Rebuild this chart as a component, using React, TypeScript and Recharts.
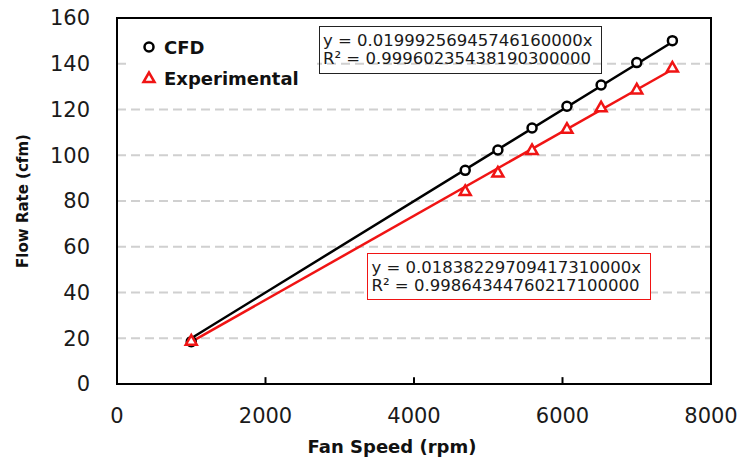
import React from 'react';
import { ScatterChart, Scatter, XAxis, YAxis, CartesianGrid, ReferenceArea, ReferenceLine, Legend } from 'recharts';

// ---- data ----
const fanSpeed = [1000, 4690, 5130, 5590, 6060, 6520, 7000, 7480];
const cfdFlow = [18.5, 93.4, 102.3, 111.9, 121.4, 130.7, 140.5, 150.1];
const expFlow = [19.0, 84.4, 92.5, 102.3, 111.6, 121.0, 128.8, 138.4];
const fitX = [1000, 7480];
const cfdFitY = [20.0, 149.5];
const expFitY = [18.4, 137.5];
const xTicks = [0, 2000, 4000, 6000, 8000];
const yTicks = [0, 20, 40, 60, 80, 100, 120, 140, 160];
const seriesNames = ['CFD', 'Experimental'];
const cfdEquation = ['y = 0.01999256945746160000x', 'R\u00B2 = 0.99960235438190300000'];
const expEquation = ['y = 0.01838229709417310000x', 'R\u00B2 = 0.99864344760217100000'];
const xTitle = 'Fan Speed (rpm)';
const yTitle = 'Flow Rate (cfm)';

const cfdData = fanSpeed.map((x, i) => ({ x, y: cfdFlow[i] }));
const expData = fanSpeed.map((x, i) => ({ x, y: expFlow[i] }));
const cfdFit = fitX.map((x, i) => ({ x, y: cfdFitY[i] }));
const expFit = fitX.map((x, i) => ({ x, y: expFitY[i] }));

const FONT = '"DejaVu Sans", sans-serif';
const RED = '#f01414';

const Circle = (p: any) => (
  <circle cx={p.cx} cy={p.cy} r={4.5} fill="#fff" stroke="#000" strokeWidth={2.5} />
);
const Tri = (p: any) => {
  const { cx, cy } = p;
  const s = 5.5;
  return (
    <polygon
      points={`${cx},${cy - s} ${cx - s},${cy + s * 0.75} ${cx + s},${cy + s * 0.75}`}
      fill="#fff"
      stroke={RED}
      strokeWidth={2.5}
    />
  );
};
const NoShape = () => <g />;

const YTitle = () => (
  <text
    x={23}
    y={201}
    transform="rotate(-90, 23, 201)"
    textAnchor="middle"
    dominantBaseline="central"
    fontFamily={FONT}
    fontWeight="bold"
    fontSize={15}
    fill="#111"
  >
    {yTitle}
  </text>
);
const XTitle = () => (
  <text
    x={392}
    y={446}
    textAnchor="middle"
    dominantBaseline="central"
    fontFamily={FONT}
    fontWeight="bold"
    fontSize={18}
    fill="#111"
  >
    {xTitle}
  </text>
);

const LegendBox = () => (
  <svg width={190} height={66} style={{ display: 'block', background: '#fff' }}>
    <circle cx={22} cy={21} r={4.5} fill="#fff" stroke="#000" strokeWidth={2.5} />
    <text x={37} y={21} dominantBaseline="central" fontFamily={FONT} fontWeight="bold" fontSize={18} fill="#111">
      {seriesNames[0]}
    </text>
    <polygon points="22,46.5 16.5,56 27.5,56" fill="#fff" stroke={RED} strokeWidth={2.5} />
    <text x={37} y={52} dominantBaseline="central" fontFamily={FONT} fontWeight="bold" fontSize={18} fill="#111">
      {seriesNames[1]}
    </text>
  </svg>
);

const boxText: React.CSSProperties = {
  position: 'absolute',
  boxSizing: 'border-box',
  fontFamily: FONT,
  fontSize: 16.5,
  lineHeight: '18px',
  whiteSpace: 'nowrap',
  color: '#1a1a1a',
};

export default function App() {
  return (
    <div style={{ position: 'absolute', left: 0, top: 0, width: 743, height: 461, background: '#fff', overflow: 'hidden' }}>
      <ScatterChart width={743} height={461} margin={{ top: 18, right: 32, bottom: 0, left: 0 }}>
        <CartesianGrid vertical={false} stroke="#d0d0d0" strokeDasharray="9 5" strokeWidth={2} />
        <XAxis
          type="number"
          dataKey="x"
          domain={[0, 8000]}
          ticks={xTicks}
          allowDataOverflow
          height={77}
          tickSize={0}
          tickMargin={24}
          tickLine={false}
          axisLine={{ stroke: '#000', strokeWidth: 2 }}
          tick={{ fontFamily: FONT, fontSize: 21, fill: '#1a1a1a' }}
          label={<XTitle />}
        />
        <YAxis
          type="number"
          dataKey="y"
          domain={[0, 160]}
          ticks={yTicks}
          allowDataOverflow
          width={117}
          tickSize={0}
          tickMargin={27}
          tickLine={false}
          axisLine={{ stroke: '#000', strokeWidth: 2 }}
          tick={{ fontFamily: FONT, fontSize: 21, fill: '#1a1a1a' }}
          label={<YTitle />}
        />
        {xTicks.map((t) => (
          <ReferenceLine
            key={t}
            segment={[{ x: t, y: 0 }, { x: t, y: 3 }]}
            stroke="#000"
            strokeWidth={2}
          />
        ))}
        <ReferenceArea x1={0} x2={8000} y1={0} y2={160} fill="none" stroke="#000" strokeWidth={2} />
        <Scatter data={cfdFit} line={{ stroke: '#000', strokeWidth: 2.5 }} shape={NoShape} isAnimationActive={false} legendType="none" />
        <Scatter data={expFit} line={{ stroke: RED, strokeWidth: 2.5 }} shape={NoShape} isAnimationActive={false} legendType="none" />
        <Scatter name={seriesNames[0]} data={cfdData} shape={Circle} isAnimationActive={false} />
        <Scatter name={seriesNames[1]} data={expData} shape={Tri} isAnimationActive={false} />
        <Legend
          layout="horizontal"
          verticalAlign="middle"
          align="center"
          content={() => <LegendBox />}
          wrapperStyle={{ position: 'absolute', left: 127, top: 26, width: 190, height: 66 }}
        />
      </ScatterChart>
      <div
        style={{
          ...boxText,
          left: 319,
          top: 26,
          width: 283,
          height: 48,
          border: '1.5px solid #222',
          padding: '5px 0 0 3px',
        }}
      >
        <div>{cfdEquation[0]}</div>
        <div>{cfdEquation[1]}</div>
      </div>
      <div
        style={{
          ...boxText,
          left: 367,
          top: 253,
          width: 284,
          height: 47,
          border: `1.5px solid ${RED}`,
          background: '#fff',
          padding: '4.5px 0 0 3.5px',
        }}
      >
        <div>{expEquation[0]}</div>
        <div>{expEquation[1]}</div>
      </div>
    </div>
  );
}
